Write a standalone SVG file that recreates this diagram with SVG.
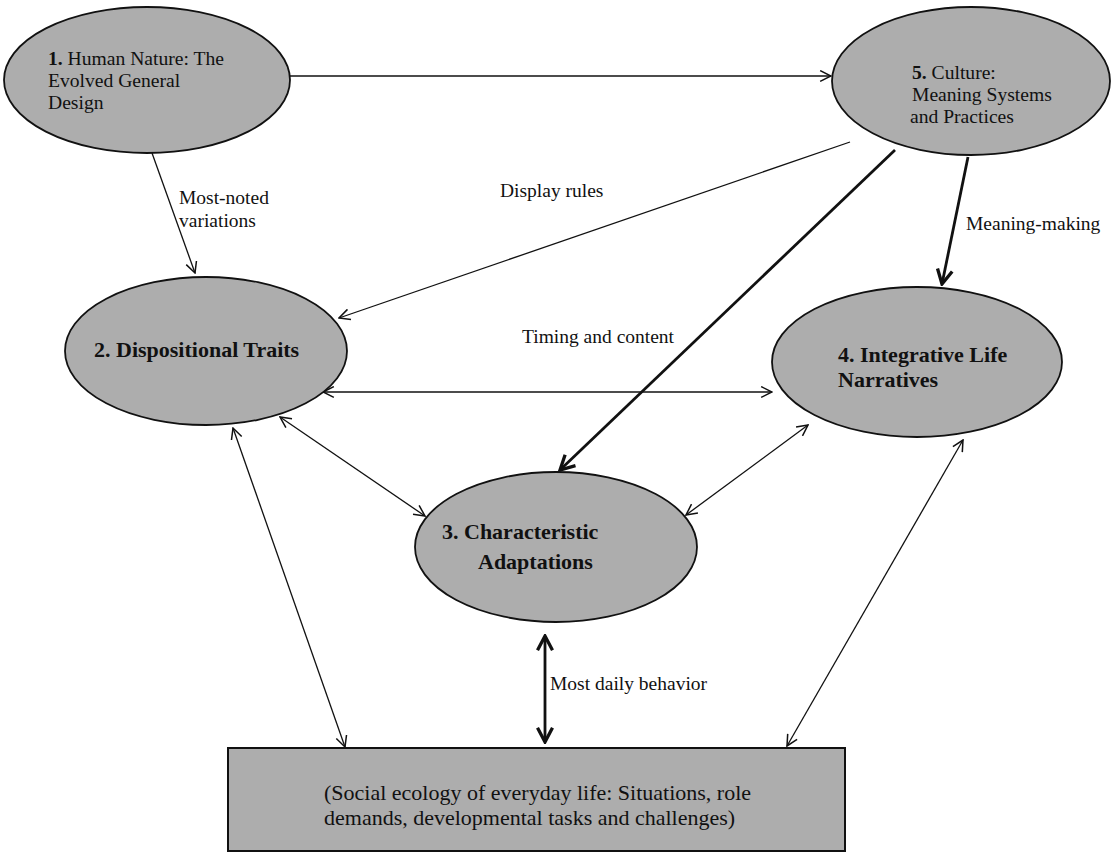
<svg xmlns="http://www.w3.org/2000/svg" width="1113" height="853" viewBox="0 0 1113 853">
<defs>
<style>
.node{fill:#adadad;stroke:#111;stroke-width:1.8}
.nt{font-family:"Liberation Serif","Times New Roman",serif;font-size:22px;fill:#111}
.ns{font-size:19.6px}
.b{font-weight:bold}
.lbl{font-family:"Liberation Serif","Times New Roman",serif;font-size:19.5px;fill:#111}
.c{fill:none;stroke:#111;stroke-width:1.3}
.ck{fill:none;stroke:#111;stroke-width:2.8}
</style>
<marker id="ar" viewBox="0 0 12 12" refX="11" refY="6" markerWidth="13" markerHeight="13" markerUnits="userSpaceOnUse" orient="auto-start-reverse"><path d="M1,1 L11,6 L1,11" fill="none" stroke="#111" stroke-width="1.4"/></marker>
<marker id="ark" viewBox="0 0 12 12" refX="10.5" refY="6" markerWidth="18" markerHeight="18" markerUnits="userSpaceOnUse" orient="auto-start-reverse"><path d="M1,1 L10.5,6 L1,11" fill="none" stroke="#111" stroke-width="2.2"/></marker>
</defs>
<rect width="1113" height="853" fill="#fff"/>
<g id="connectors">
<path class="c" d="M290,76 L831,76" marker-end="url(#ar)"/>
<path class="c" d="M152,153 L195,273" marker-end="url(#ar)"/>
<path class="c" d="M850,142 L339,318" marker-end="url(#ar)"/>
<path class="ck" d="M895,150 L560,470" marker-end="url(#ark)"/>
<path class="ck" d="M968,157 L942,284" marker-end="url(#ark)"/>
<path class="c" d="M323,392 L772,392" marker-start="url(#ar)" marker-end="url(#ar)"/>
<path class="c" d="M280,417 L425,516" marker-start="url(#ar)" marker-end="url(#ar)"/>
<path class="c" d="M686,515 L808,425" marker-start="url(#ar)" marker-end="url(#ar)"/>
<path class="c" d="M233,428 L345,747" marker-start="url(#ar)" marker-end="url(#ar)"/>
<path class="c" d="M963,440 L787,746" marker-start="url(#ar)" marker-end="url(#ar)"/>
<path class="ck" d="M545,636 L545,742" marker-start="url(#ark)" marker-end="url(#ark)"/>
<text class="lbl" x="179" y="204">Most-noted</text>
<text class="lbl" x="179" y="227">variations</text>
<text class="lbl" x="500" y="197">Display rules</text>
<text class="lbl" x="522" y="343">Timing and content</text>
<text class="lbl" x="966" y="230" font-size="20.5">Meaning-making</text>
<text class="lbl" x="550" y="690">Most daily behavior</text>
</g>
<g id="n1">
<ellipse class="node" cx="147" cy="80" rx="143" ry="73"/>
<text class="nt ns" x="48" y="65"><tspan class="b">1.</tspan> Human Nature: The</text>
<text class="nt ns" x="48" y="87">Evolved General</text>
<text class="nt ns" x="48" y="109">Design</text>
</g>
<g id="n5">
<ellipse class="node" cx="971" cy="81" rx="139" ry="74"/>
<text class="nt ns" x="912" y="79"><tspan class="b">5.</tspan> Culture:</text>
<text class="nt ns" x="912" y="101">Meaning Systems</text>
<text class="nt ns" x="910" y="123">and  Practices</text>
</g>
<g id="n2">
<ellipse class="node" cx="206" cy="351" rx="141" ry="74"/>
<text class="nt b" x="94" y="357">2. Dispositional Traits</text>
</g>
<g id="n4">
<ellipse class="node" cx="917" cy="362" rx="145" ry="75"/>
<text class="nt b" x="838" y="362">4. Integrative Life</text>
<text class="nt b" x="838" y="387">Narratives</text>
</g>
<g id="n3">
<ellipse class="node" cx="556" cy="547" rx="141" ry="75"/>
<text class="nt b" x="442" y="539">3. Characteristic</text>
<text class="nt b" x="478" y="569">Adaptations</text>
</g>
<g id="n6">
<rect x="228" y="748" width="617" height="103" fill="#adadad" stroke="#111" stroke-width="2"/>
<text class="nt" x="324" y="800" font-size="22.5">(Social ecology of everyday life: Situations, role</text>
<text class="nt" x="324" y="825" font-size="22.5">demands, developmental tasks and challenges)</text>
</g>
</svg>
